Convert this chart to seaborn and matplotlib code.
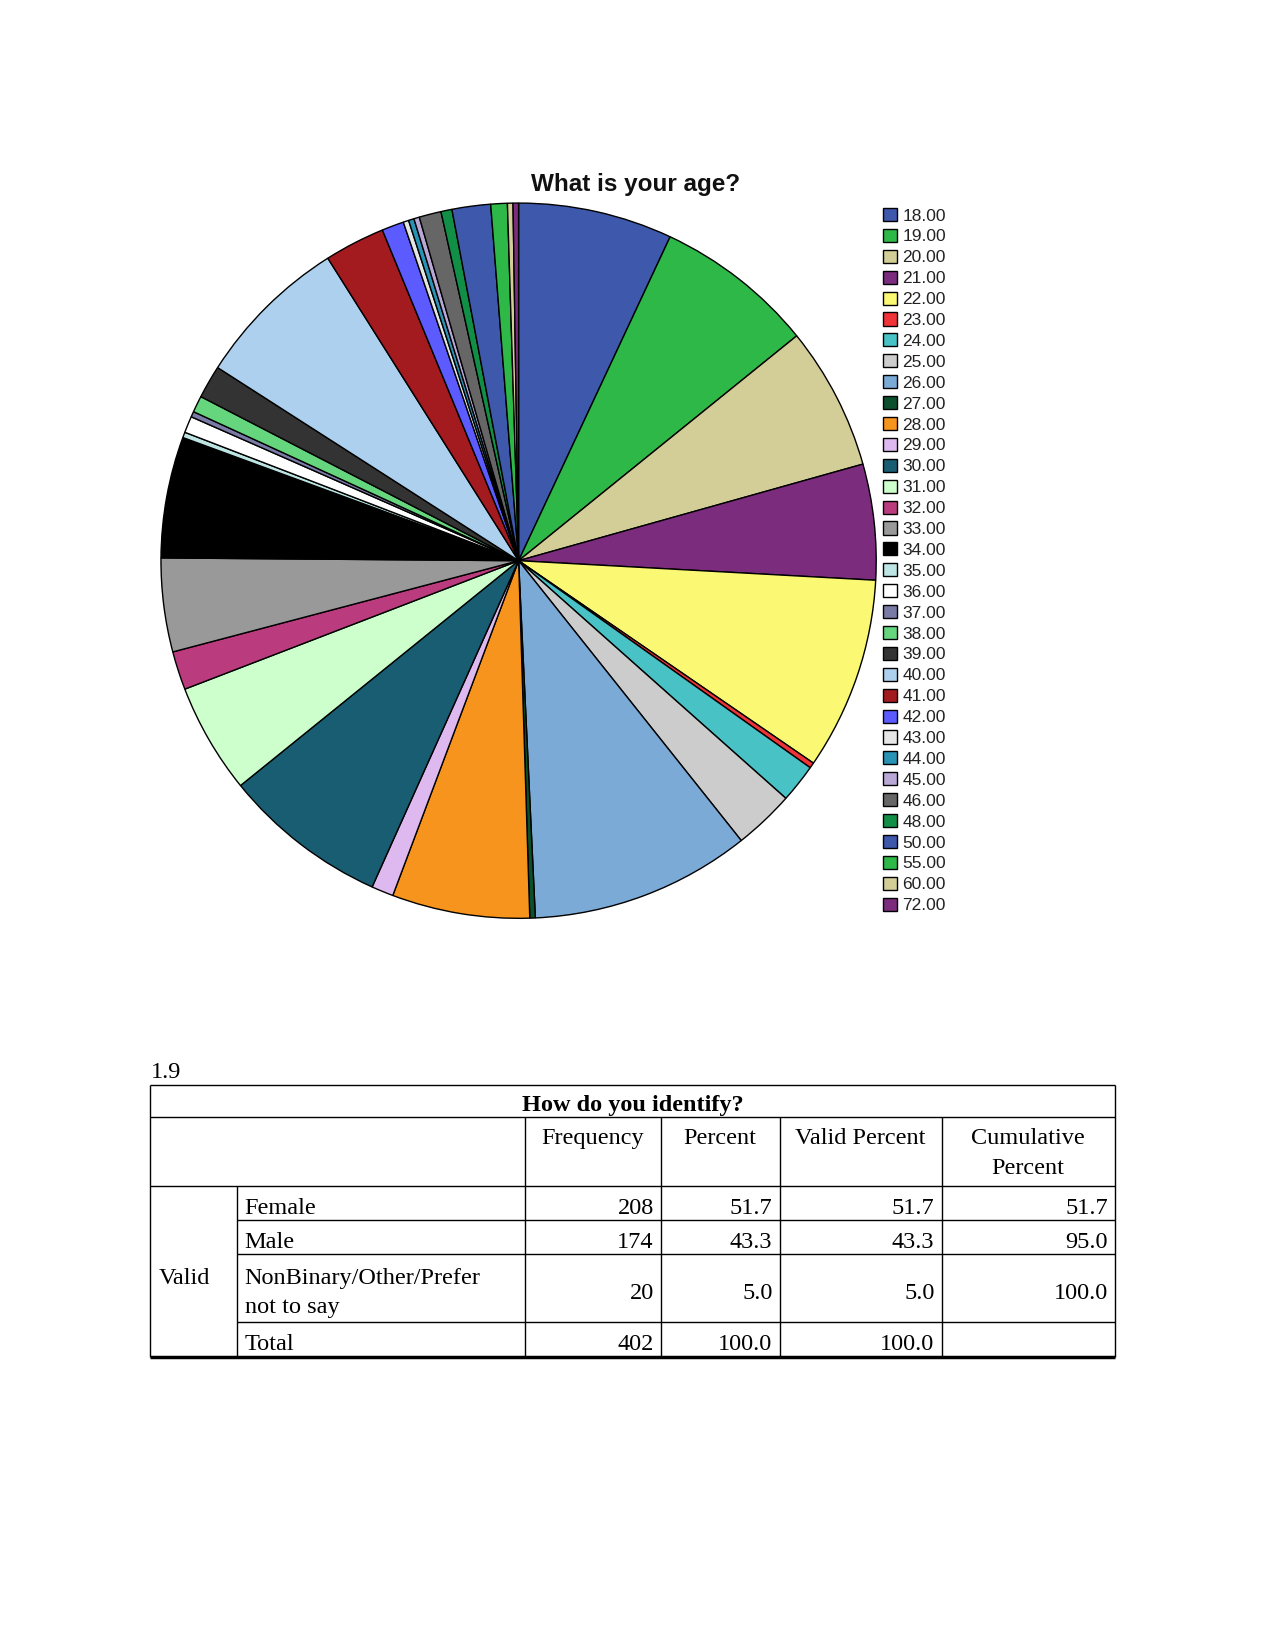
import matplotlib
matplotlib.use("Agg")
import matplotlib.pyplot as plt
import seaborn as sns

# age pie (counts)
ages = ['18.00', '19.00', '20.00', '21.00', '22.00', '23.00', '24.00', '25.00',
        '26.00', '27.00', '28.00', '29.00', '30.00', '31.00', '32.00', '33.00',
        '34.00', '35.00', '36.00', '37.00', '38.00', '39.00', '40.00', '41.00',
        '42.00', '43.00', '44.00', '45.00', '46.00', '48.00', '50.00', '55.00',
        '60.00', '72.00']
counts = [28, 29, 26, 21, 35, 1, 7, 11,
          40, 1, 25, 4, 30, 20, 7, 17,
          22, 1, 3, 1, 3, 6, 28, 11,
          4, 1, 1, 1, 4, 2, 7, 3,
          1, 1]
colors = ['#3E58AC', '#2EB848', '#D3CE97', '#7B2C7D', '#FBF873', '#EF3338', '#48C2C5', '#CCCCCC',
          '#7BAAD7', '#0B4F2C', '#F7941D', '#DDB9EF', '#195D73', '#CCFFCC', '#BA3B7E', '#999999',
          '#000000', '#BCE5E3', '#FFFFFF', '#7A7AA6', '#66D67E', '#333333', '#ACD0EE', '#A31A1F',
          '#5B5BFF', '#E6E6E6', '#2893B5', '#B9A7D6', '#666666', '#128F47', '#3E58AC', '#2EB848',
          '#D3CE97', '#7B2C7D']

# frequency table
table_title = 'How do you identify?'
col_heads = ['Frequency', 'Percent', 'Valid Percent', 'Cumulative\nPercent']
row_labels = ['Female', 'Male', 'NonBinary/Other/Prefer\nnot to say', 'Total']
freq = ['208', '174', '20', '402']
pct = ['51.7', '43.3', '5.0', '100.0']
valid_pct = ['51.7', '43.3', '5.0', '100.0']
cum_pct = ['51.7', '95.0', '100.0', '']

sns.set_theme(style="white")
plt.rcParams['font.family'] = ['Liberation Sans', 'DejaVu Sans']

W, H = 1275, 1650
fig = plt.figure(figsize=(W / 100, H / 100), dpi=100)

# pie axes placed in pixel terms
cx, cy, r = 518.6, 560.7, 358.7
ax = fig.add_axes([(cx - r) / W, (H - cy - r) / H, 2 * r / W, 2 * r / H])
wedges, _ = ax.pie(counts, colors=colors, startangle=90, counterclock=False,
                   wedgeprops=dict(edgecolor='black', linewidth=1.0))
ax.set_xlim(-1.003, 1.003)
ax.set_ylim(-1.003, 1.003)
ax.set_aspect('equal')

fig.text(636 / W, 1 - 185 / H, 'What is your age?', ha='center', va='center',
         fontsize=17.5, fontweight='bold', color='#111111')

leg = fig.legend(wedges, ages, loc='upper left', frameon=False,
                 bbox_to_anchor=(883 / W, 1 - 208 / H), borderpad=0,
                 fontsize=12.5, handlelength=0.78, handleheight=0.78,
                 handletextpad=0.35, labelspacing=0.307, borderaxespad=0)
for t in leg.get_texts():
    t.set_color('#222222')

# table drawn on a full-page overlay in pixel coordinates
tx = fig.add_axes([0, 0, 1, 1])
tx.set_xlim(0, W)
tx.set_ylim(H, 0)
tx.axis('off')
tx.patch.set_alpha(0)

serif = ['Liberation Serif', 'DejaVu Serif']
fs = 17.5
L, R = 150.4, 1115
cols = [236.7, 525, 660.7, 779.5, 941.5]
top, y_title, y_head = 1084.6, 1117.2, 1185.6
row_bottoms = [1220.4, 1254, 1322.4, 1357]
lw = 1.0
dy = 5  # text sits a little low in its cell

tx.text(L, 1072, '1.9', ha='left', va='center', fontsize=fs, family=serif, color='black')
tx.hlines([top, y_title, y_head], L, R, color='black', lw=lw)
tx.hlines(row_bottoms[:-1], cols[0], R, color='black', lw=lw)
tx.hlines(row_bottoms[-1], L, R, color='black', lw=2.5)
tx.vlines([L, R], top, row_bottoms[-1], color='black', lw=lw)
tx.vlines(cols[1:], y_title, row_bottoms[-1], color='black', lw=lw)
tx.vlines(cols[0], y_head, row_bottoms[-1], color='black', lw=lw)

tx.text((L + R) / 2, (top + y_title) / 2 + dy, table_title, ha='center', va='center',
        fontsize=fs, fontweight='bold', family=serif, color='black')
edges = cols[1:] + [R]
for i, h in enumerate(col_heads):
    tx.text((edges[i] + edges[i + 1]) / 2, y_title + 6 + dy, h, ha='center', va='top',
            fontsize=fs, family=serif, color='black', linespacing=1.55)

tx.text(L + 8, 1274 + dy, 'Valid', ha='left', va='center', fontsize=fs, family=serif, color='black')
prev = y_head
for i, lab in enumerate(row_labels):
    mid = (prev + row_bottoms[i]) / 2 + dy
    tx.text(cols[0] + 8, mid, lab, ha='left', va='center', fontsize=fs,
            family=serif, color='black', linespacing=1.5)
    for j, vals in enumerate([freq, pct, valid_pct, cum_pct]):
        tx.text(edges[j + 1] - 7, mid, vals[i], ha='right', va='center',
                fontsize=fs, family=serif, color='black')
    prev = row_bottoms[i]

fig.savefig('out.png', dpi=100)
